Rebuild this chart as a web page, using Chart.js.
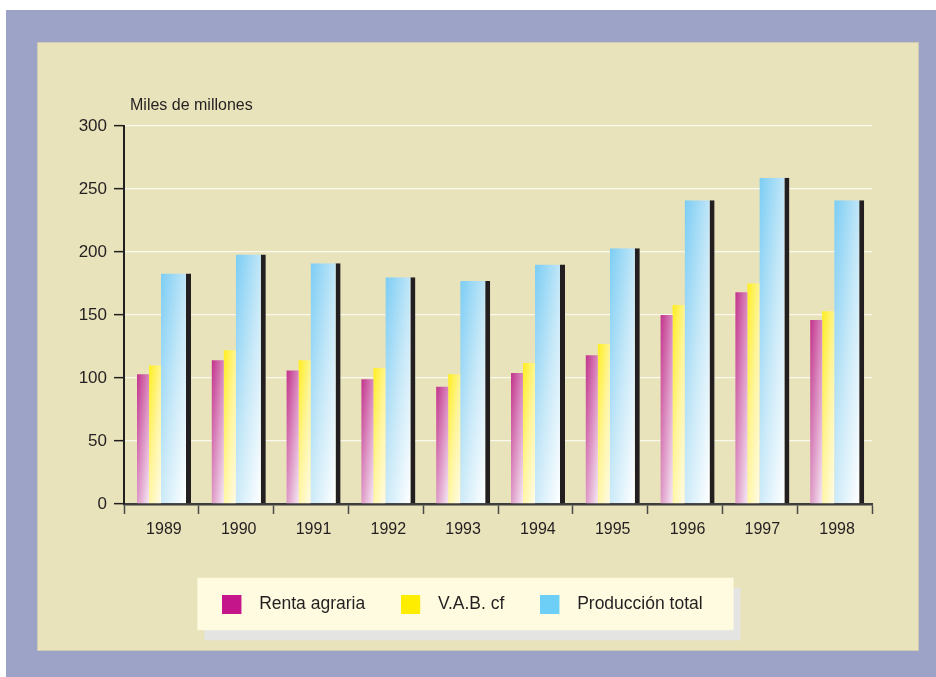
<!DOCTYPE html>
<html>
<head>
<meta charset="utf-8">
<script src="https://cdn.jsdelivr.net/npm/chart.js@4.4.1/dist/chart.umd.min.js"></script>
<style>
  html, body { margin: 0; padding: 0; background: #fff; }
  #marco { position: absolute; left: 6px; top: 10px; width: 930px; height: 667px; background: #9da3c7; }
  #panel { position: absolute; left: 37px; top: 42px; width: 880px; height: 607px; background: #e8e3bb; border: 1px solid #cfcbb3; }
  #grafico { position: absolute; left: 0; top: 0; }
</style>
</head>
<body>
<div id="marco"></div>
<div id="panel"></div>
<canvas id="grafico" width="936" height="677"></canvas>
<script>
// datos (miles de millones)
const years = ['1989', '1990', '1991', '1992', '1993', '1994', '1995', '1996', '1997', '1998'];
const seriesNames = ['Renta agraria', 'V.A.B. cf', 'Producción total'];
const rentaAgraria = [103, 114, 106, 99, 93, 104, 118, 150, 168, 146];
const vabCf = [110, 122, 114, 108, 103, 112, 127, 158, 175, 153];
const produccionTotal = [183, 198, 191, 180, 177, 190, 203, 241, 259, 241];
const yTicks = [0, 50, 100, 150, 200, 250, 300];

const legendColors = ['#c4168a', '#ffed00', '#6dcff6'];
const gradientStops = [
    [[0, '#c2338c'], [0.5, '#dc90c2'], [1, '#f5e8f3']],
    [[0, '#ffee1e'], [0.5, '#fff59c'], [1, '#fffbe8']],
    [[0, '#7ccdf4'], [0.5, '#c6e8f8'], [1, '#ffffff']]
];
const SHADOW = 5;
const textColor = '#231f20';

Chart.defaults.font.family = "'Liberation Sans', Arial, sans-serif";
Chart.defaults.color = textColor;

const legendSwatch = (color) => {
    const c = document.createElement('canvas');
    c.width = 28;
    c.height = 19;
    const g = c.getContext('2d');
    g.fillStyle = color;
    g.fillRect(0, 0, 19, 19);
    return c;
};
const swatches = legendColors.map(legendSwatch);

// degradado diagonal de cada barra, calculado con la geometria que da Chart.js
const barGradients = {
    id: 'barGradients',
    beforeDatasetsDraw(chart) {
        const ctx = chart.ctx;
        chart.data.datasets.forEach((ds, i) => {
            const shade = i === 2 ? SHADOW : 0;
            chart.getDatasetMeta(i).data.forEach(bar => {
                const { x, y, base, width } = bar.getProps(['x', 'y', 'base', 'width'], true);
                const left = x - width / 2;
                const w = width - shade;
                const h = base - y;
                if (w <= 0 || h <= 0) return;
                const a = 0.45 / w, b = 0.55 / h, k = a * a + b * b;
                const g = ctx.createLinearGradient(left, y, left + a / k, y + b / k);
                gradientStops[i].forEach(([o, c]) => g.addColorStop(o, c));
                bar.options.backgroundColor = g;
            });
        });
    }
};

// la leyenda del original no queda centrada: se corre un poco a la izquierda
const legendPanel = {
    id: 'legendPanel',
    afterLayout(chart) {
        if (!chart.legend) return;
        chart.legend.left -= 5.5;
        chart.legend.right -= 5.5;
    },
    beforeDraw(chart) {
        const boxes = chart.legend && chart.legend.legendHitBoxes;
        if (!boxes || !boxes.length) return;
        const ctx = chart.ctx;
        const first = boxes[0];
        const last = boxes[boxes.length - 1];
        const left = first.left - 25;
        const right = last.left + last.width + 31;
        const top = first.top + 8.75 - 26.5;
        const h = 52.5;
        ctx.save();
        ctx.fillStyle = '#e4e4e2';
        ctx.fillRect(left + 7, top + 10, right - left, h);
        ctx.fillStyle = '#fefbe0';
        ctx.fillRect(left, top, right - left, h);
        ctx.restore();
    }
};

const unitLabel = {
    id: 'unitLabel',
    afterDraw(chart) {
        const ctx = chart.ctx;
        ctx.save();
        ctx.font = "16px 'Liberation Sans', Arial, sans-serif";
        ctx.fillStyle = textColor;
        ctx.textAlign = 'left';
        ctx.textBaseline = 'alphabetic';
        ctx.fillText('Miles de millones', chart.chartArea.left + 6, chart.chartArea.top - 16);
        ctx.restore();
    }
};

const canvas = document.getElementById('grafico');
const ctx = canvas.getContext('2d');

const grafico = new Chart(ctx, {
    type: 'bar',
    data: {
        labels: years,
        datasets: [{
            label: seriesNames[0],
            data: rentaAgraria,
            stack: 'izq',
            backgroundColor: () => legendColors[0],
            borderWidth: 0,
            categoryPercentage: 0.984,
            barPercentage: 0.326
        }, {
            label: seriesNames[1],
            data: vabCf,
            stack: 'izq',
            backgroundColor: () => legendColors[1],
            borderWidth: 0,
            categoryPercentage: 0.342,
            barPercentage: 0.9375
        }, {
            label: seriesNames[2],
            data: produccionTotal,
            stack: 'der',
            backgroundColor: () => legendColors[2],
            borderColor: textColor,
            borderWidth: { top: 0, right: SHADOW, bottom: 0, left: 0 },
            borderSkipped: false,
            categoryPercentage: 0.781,
            barPercentage: 1.027
        }]
    },
    options: {
        responsive: false,
        animation: false,
        layout: { padding: { left: 64, right: 64, top: 126, bottom: 54 } },
        plugins: {
            tooltip: { enabled: false },
            legend: {
                position: 'bottom',
                labels: {
                    usePointStyle: true,
                    pointStyleWidth: 28,
                    padding: 36,
                    color: textColor,
                    font: { size: 17.5 },
                    generateLabels: () => seriesNames.map((name, i) => ({
                        text: name,
                        fillStyle: legendColors[i],
                        strokeStyle: legendColors[i],
                        lineWidth: 0,
                        pointStyle: swatches[i],
                        hidden: false,
                        datasetIndex: i,
                        fontColor: textColor
                    }))
                }
            }
        },
        scales: {
            x: {
                grid: { offset: true, drawOnChartArea: false, tickLength: 10, tickColor: '#4a4a4a', tickWidth: 1.5 },
                border: { color: '#3d3d3d', width: 2.5 },
                ticks: { color: textColor, font: { size: 16 }, padding: 6, labelOffset: 2.5, maxRotation: 0, autoSkip: false },
                afterFit(scale) { scale.height = 55.5; }
            },
            y: {
                min: 0,
                max: 300,
                stacked: false,
                afterBuildTicks(scale) { scale.ticks = yTicks.map(v => ({ value: v })); },
                grid: {
                    color: (c) => c.tick && c.tick.value === 0 ? 'rgba(0,0,0,0)' : '#fbf9ee',
                    lineWidth: 1.3,
                    tickLength: 10,
                    tickColor: textColor,
                    tickWidth: 1.5
                },
                border: { color: textColor, width: 2 },
                ticks: { color: textColor, font: { size: 17 }, padding: 7 },
                afterFit(scale) { scale.width = 60; }
            }
        }
    },
    plugins: [legendPanel, barGradients, unitLabel]
});
</script>
</body>
</html>
